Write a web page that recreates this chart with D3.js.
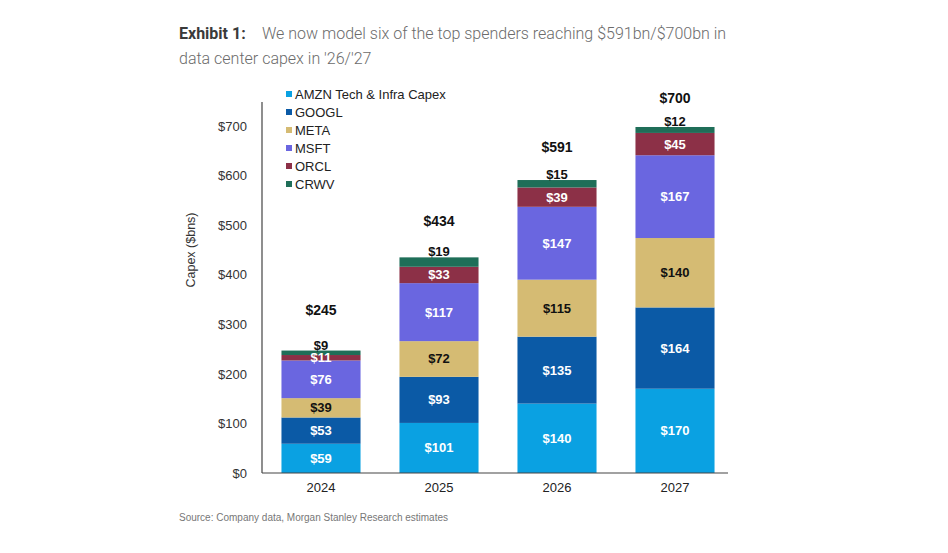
<!DOCTYPE html>
<html>
<head>
<meta charset="utf-8">
<script src="https://cdn.jsdelivr.net/npm/d3@7"></script>
<style>
  body { margin: 0; background: #fff; }
  svg text { font-family: "Liberation Sans", Arial, sans-serif; }
</style>
</head>
<body>
<div id="chart"></div>
<script>
// chart data
var years = ["2024", "2025", "2026", "2027"];
var companies = ["AMZN Tech & Infra Capex", "GOOGL", "META", "MSFT", "ORCL", "CRWV"];
var amzn = [59, 101, 140, 170];
var googl = [53, 93, 135, 164];
var meta = [39, 72, 115, 140];
var msft = [76, 117, 147, 167];
var orcl = [11, 33, 39, 45];
var crwv = [9, 19, 15, 12];
var totals = [245, 434, 591, 700];
var yTicks = [0, 100, 200, 300, 400, 500, 600, 700];

var colors = ["#0aa1e2", "#0b5aa6", "#d5bb73", "#6a66e0", "#8c3047", "#1f6e58"];
var labelColors = ["#fff", "#fff", "#111", "#fff", "#fff", "#111"];

var svgWidth = 948;
var svgHeight = 553;

var svg = d3.select("#chart")
    .append("svg")
    .attr("width", svgWidth)
    .attr("height", svgHeight);

// title
var title = svg.append("text")
    .attr("x", 179)
    .attr("y", 39)
    .style("font-family", "Roboto, sans-serif")
    .style("font-size", "16px");
title.append("tspan")
    .attr("font-weight", "bold")
    .attr("fill", "#3a3a3a")
    .text("Exhibit 1:");
title.append("tspan")
    .attr("x", 262)
    .attr("fill", "#6b6b6b")
    .attr("font-weight", 300)
    .text("We now model six of the top spenders reaching $591bn/$700bn in");
svg.append("text")
    .attr("x", 179)
    .attr("y", 64)
    .style("font-family", "Roboto, sans-serif")
    .style("font-size", "16px")
    .attr("font-weight", 300)
    .attr("fill", "#6b6b6b")
    .text("data center capex in '26/'27");

// build stacked table
var series = [amzn, googl, meta, msft, orcl, crwv];
var table = years.map(function(y, i) {
    var row = { year: y };
    companies.forEach(function(c, k) { row[c] = series[k][i]; });
    return row;
});
var stacked = d3.stack().keys(companies)(table);

// scales
var xScale = d3.scaleBand()
    .domain(years)
    .range([262, 734])
    .paddingInner(0.33)
    .paddingOuter(0.165);

var yScale = d3.scaleLinear()
    .domain([0, 700])
    .range([473, 126]);

// y axis
var leftAxis = d3.axisLeft(yScale)
    .tickValues(yTicks)
    .tickSize(0)
    .tickPadding(15)
    .tickFormat(function(d) { return "$" + d; });

var yAxis = svg.append("g")
    .attr("transform", "translate(262,0)")
    .call(leftAxis);
yAxis.select(".domain").remove();
yAxis.selectAll("text")
    .style("font-size", "13px")
    .attr("fill", "#333");

svg.append("line")
    .attr("x1", 262).attr("x2", 262)
    .attr("y1", 102).attr("y2", 473)
    .attr("stroke", "#444")
    .attr("stroke-width", 1.2);

// x axis
var bottomAxis = d3.axisBottom(xScale).tickSize(0).tickPadding(10);
var xAxis = svg.append("g")
    .attr("transform", "translate(0,473)")
    .call(bottomAxis);
xAxis.select(".domain").remove();
xAxis.selectAll("text")
    .style("font-size", "13px")
    .attr("fill", "#222");

// bars
var layers = svg.append("g").selectAll("g")
    .data(stacked)
    .enter()
    .append("g")
    .attr("fill", function(d, k) { return colors[k]; });

layers.selectAll("rect")
    .data(function(d) { return d; })
    .enter()
    .append("rect")
    .attr("x", function(d) { return xScale(d.data.year); })
    .attr("y", function(d) { return yScale(d[1]); })
    .attr("width", xScale.bandwidth())
    .attr("height", function(d) { return yScale(d[0]) - yScale(d[1]); });

svg.append("line")
    .attr("x1", 262).attr("x2", 728)
    .attr("y1", 473).attr("y2", 473)
    .attr("stroke", "#444")
    .attr("stroke-width", 1.2);

// segment labels
stacked.forEach(function(layer, k) {
    svg.append("g").selectAll("text")
        .data(layer)
        .enter()
        .append("text")
        .attr("x", function(d) { return xScale(d.data.year) + xScale.bandwidth() / 2; })
        .attr("y", function(d) {
            if (k === 5) return yScale(d[1]) - 1;
            return (yScale(d[0]) + yScale(d[1])) / 2 + 4.5;
        })
        .attr("text-anchor", "middle")
        .attr("font-weight", "bold")
        .style("font-size", "13px")
        .attr("fill", labelColors[k])
        .text(function(d) { return "$" + (d[1] - d[0]); });
});

// totals
svg.append("g").selectAll("text")
    .data(totals)
    .enter()
    .append("text")
    .attr("x", function(d, i) { return xScale(years[i]) + xScale.bandwidth() / 2; })
    .attr("y", function(d, i) { return yScale(d) - (42 - i * 4.7) + 5; })
    .attr("text-anchor", "middle")
    .attr("font-weight", "bold")
    .style("font-size", "14px")
    .attr("fill", "#111")
    .text(function(d) { return "$" + d; });

// y label
svg.append("text")
    .attr("transform", "rotate(-90)")
    .attr("x", -250)
    .attr("y", 195)
    .attr("text-anchor", "middle")
    .style("font-size", "12.5px")
    .attr("fill", "#333")
    .text("Capex ($bns)");

// legend
var legend = svg.append("g").selectAll("g")
    .data(companies)
    .enter()
    .append("g")
    .attr("transform", function(d, k) { return "translate(286," + (94 + k * 18) + ")"; });

legend.append("rect")
    .attr("x", 0)
    .attr("y", -3)
    .attr("width", 6)
    .attr("height", 6)
    .attr("fill", function(d, k) { return colors[k]; });

legend.append("text")
    .attr("x", 9)
    .attr("y", 4.5)
    .style("font-size", "13px")
    .attr("fill", "#222")
    .text(function(d) { return d; });

// source
svg.append("text")
    .attr("x", 179)
    .attr("y", 521)
    .style("font-size", "10px")
    .attr("fill", "#777")
    .text("Source: Company data, Morgan Stanley Research estimates");
</script>
</body>
</html>
